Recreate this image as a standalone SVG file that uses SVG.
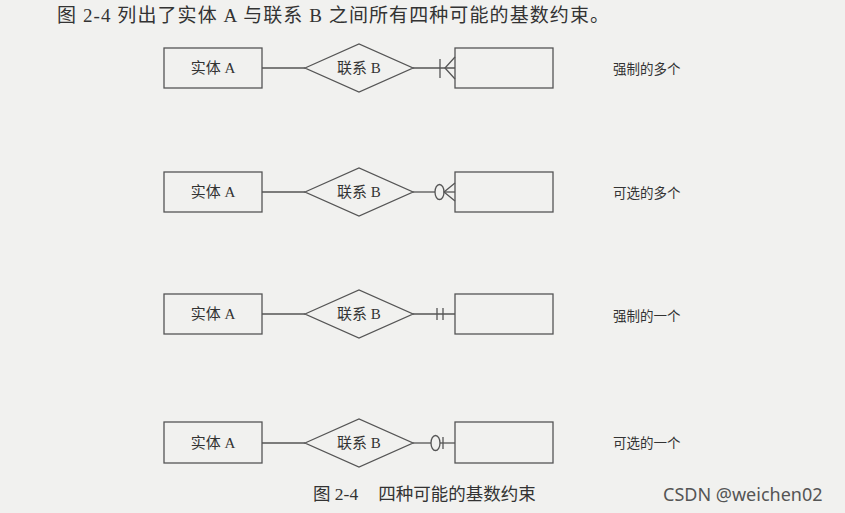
<svg xmlns="http://www.w3.org/2000/svg" width="845" height="513" viewBox="0 0 845 513">
<style>
.bg{fill:#f1f1ef}
.box{fill:none;stroke:#555;stroke-width:1.3}
.ln{fill:none;stroke:#555;stroke-width:1.3}
.t{font-family:"Liberation Serif","Noto Sans CJK SC",serif;fill:#333;font-size:15px;text-anchor:middle;dominant-baseline:central}
.lab{font-family:"Noto Sans CJK SC",sans-serif;fill:#333;font-size:13.5px;dominant-baseline:central}
.head{font-family:"Liberation Serif","Noto Sans CJK SC",serif;fill:#333;font-size:19px}
.cap{font-family:"Liberation Serif","Noto Sans CJK SC",serif;fill:#333;font-size:17.5px}
.wm{font-family:"Noto Sans","DejaVu Sans",sans-serif;fill:#555;font-size:18px}
</style>
<rect class="bg" x="0" y="0" width="845" height="513"/>
<text class="head" x="57" y="22" textLength="552">图 2-4 列出了实体 A 与联系 B 之间所有四种可能的基数约束。</text>

<g id="row1">
<g id="entityA1"><rect class="box" x="164" y="48" width="98" height="40"/><text class="t" x="213" y="68">实体 A</text></g>
<g id="relB1"><polygon class="box" points="305,68 359,44 413,68 359,92"/><text class="t" x="359" y="68">联系 B</text></g>
<g id="entity1"><rect class="box" x="455" y="48" width="98" height="40"/></g>
<text class="lab" x="613" y="68">强制的多个</text>
</g>

<g id="row2">
<g id="entityA2"><rect class="box" x="164" y="172" width="98" height="40"/><text class="t" x="213" y="192">实体 A</text></g>
<g id="relB2"><polygon class="box" points="305,192 359,168 413,192 359,216"/><text class="t" x="359" y="192">联系 B</text></g>
<g id="entity2"><rect class="box" x="455" y="172" width="98" height="40"/></g>
<text class="lab" x="613" y="192">可选的多个</text>
</g>

<g id="row3">
<g id="entityA3"><rect class="box" x="164" y="294" width="98" height="40"/><text class="t" x="213" y="314">实体 A</text></g>
<g id="relB3"><polygon class="box" points="305,314 359,290 413,314 359,338"/><text class="t" x="359" y="314">联系 B</text></g>
<g id="entity3"><rect class="box" x="455" y="294" width="98" height="40"/></g>
<text class="lab" x="613" y="315">强制的一个</text>
</g>

<g id="row4">
<g id="entityA4"><rect class="box" x="164" y="422" width="98" height="41"/><text class="t" x="213" y="443">实体 A</text></g>
<g id="relB4"><polygon class="box" points="305,443 359,419 413,443 359,467"/><text class="t" x="359" y="443">联系 B</text></g>
<g id="entity4"><rect class="box" x="455" y="422" width="98" height="41"/></g>
<text class="lab" x="613" y="442">可选的一个</text>
</g>

<g id="connectors">
<line class="ln" x1="262" y1="68" x2="305" y2="68"/>
<line class="ln" x1="413" y1="68" x2="455" y2="68"/>
<line class="ln" x1="440" y1="59" x2="440" y2="78"/>
<polyline class="ln" points="455,57 445,68 455,79"/>

<line class="ln" x1="262" y1="192" x2="305" y2="192"/>
<line class="ln" x1="413" y1="192" x2="435" y2="192"/>
<line class="ln" x1="444" y1="192" x2="455" y2="192"/>
<ellipse class="ln" cx="439.5" cy="192" rx="4.5" ry="7.5"/>
<polyline class="ln" points="455,183 444,192 455,201"/>

<line class="ln" x1="262" y1="314" x2="305" y2="314"/>
<line class="ln" x1="413" y1="314" x2="455" y2="314"/>
<line class="ln" x1="437" y1="308" x2="437" y2="320"/>
<line class="ln" x1="443" y1="308" x2="443" y2="320"/>

<line class="ln" x1="262" y1="443" x2="305" y2="443"/>
<line class="ln" x1="413" y1="443" x2="431" y2="443"/>
<line class="ln" x1="440" y1="443" x2="455" y2="443"/>
<ellipse class="ln" cx="435.5" cy="443" rx="4.5" ry="7.5"/>
<line class="ln" x1="443" y1="437" x2="443" y2="449"/>
</g>

<text class="cap" x="313" y="500">图 2-4<tspan dx="20">四种可能的基数约束</tspan></text>
<text class="wm" x="663" y="501">CSDN @weichen02</text>
</svg>
